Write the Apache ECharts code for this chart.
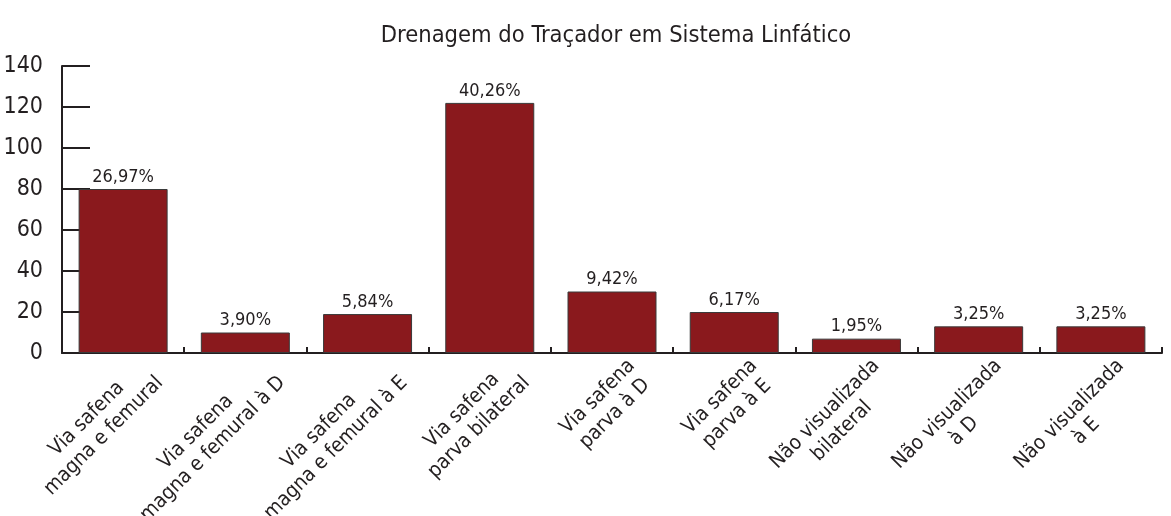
<!DOCTYPE html>
<html>
<head>
<meta charset="utf-8">
<script src="https://cdn.jsdelivr.net/npm/echarts@6/dist/echarts.min.js"></script>
<style>
  html, body { margin: 0; padding: 0; background: #fff; }
  #chart { width: 1171px; height: 516px; }
</style>
</head>
<body>
<div id="chart"></div>
<script>
// drenagem do traçador - barras

const categories = [
    'Via safena\nmagna e femural',
    'Via safena\nmagna e femural à D',
    'Via safena\nmagna e femural à E',
    'Via safena\nparva bilateral',
    'Via safena\nparva à D',
    'Via safena\nparva à E',
    'Não visualizada\nbilateral',
    'Não visualizada\nà D',
    'Não visualizada\nà E'
];
const counts = [80, 10, 19, 122, 30, 20, 7, 13, 13];
const percentLabels = ['26,97%', '3,90%', '5,84%', '40,26%', '9,42%', '6,17%', '1,95%', '3,25%', '3,25%'];

const FONT = "'Liberation Sans Narrow', 'DejaVu Sans Condensed', sans-serif";
const AXIS_COLOR = '#231f20';

const chart = echarts.init(document.getElementById('chart'));

const option = {
    animation: false,
    title: {
        text: 'Drenagem do Traçador em Sistema Linfático',
        left: 611,
        top: 19,
        textAlign: 'center',
        textStyle: {
            fontFamily: FONT,
            fontSize: 23.5,
            fontWeight: 'normal',
            color: '#231f20'
        }
    },
    grid: {
        left: 62,
        right: 9,
        top: 66,
        bottom: 163,
        outerBoundsMode: 'none'
    },
    xAxis: {
        type: 'category',
        data: categories,
        axisLine: { lineStyle: { color: AXIS_COLOR, width: 2 } },
        axisTick: {
            show: true,
            inside: true,
            length: 6,
            lineStyle: { color: AXIS_COLOR, width: 2 }
        },
        axisLabel: {
            rotate: 45,
            margin: -10,
            verticalAlign: 'top',
            padding: [16, 0, 0, 0],
            interval: 0,
            fontFamily: FONT,
            fontSize: 20.5,
            color: '#231f20',
            lineHeight: 24,
            formatter: function (v) {
                // center each line inside the rotated block
                return v.split('\n').map(s => '{c|' + s + '}').join('\n');
            },
            rich: {
                c: {
                    align: 'center',
                    fontFamily: FONT,
                    fontSize: 20.5,
                    lineHeight: 24,
                    color: '#231f20'
                }
            }
        }
    },
    yAxis: {
        type: 'value',
        min: 0,
        max: 140,
        interval: 20,
        splitLine: { show: false },
        axisLine: { show: true, lineStyle: { color: AXIS_COLOR, width: 2 } },
        axisTick: {
            show: true,
            inside: true,
            length: 28,
            lineStyle: { color: AXIS_COLOR, width: 2 }
        },
        axisLabel: {
            margin: 19,
            fontFamily: FONT,
            fontSize: 23,
            color: '#231f20'
        }
    },
    series: [
        {
            type: 'bar',
            data: counts,
            barWidth: 89,
            itemStyle: {
                color: '#8a191d',
                borderColor: '#3a3a3a',
                borderWidth: 1
            },
            label: {
                show: true,
                position: 'top',
                distance: 3,
                fontFamily: FONT,
                fontSize: 18,
                color: '#231f20',
                formatter: function (p) {
                    return percentLabels[p.dataIndex];
                }
            }
        }
    ]
};

chart.setOption(option);
</script>
</body>
</html>
